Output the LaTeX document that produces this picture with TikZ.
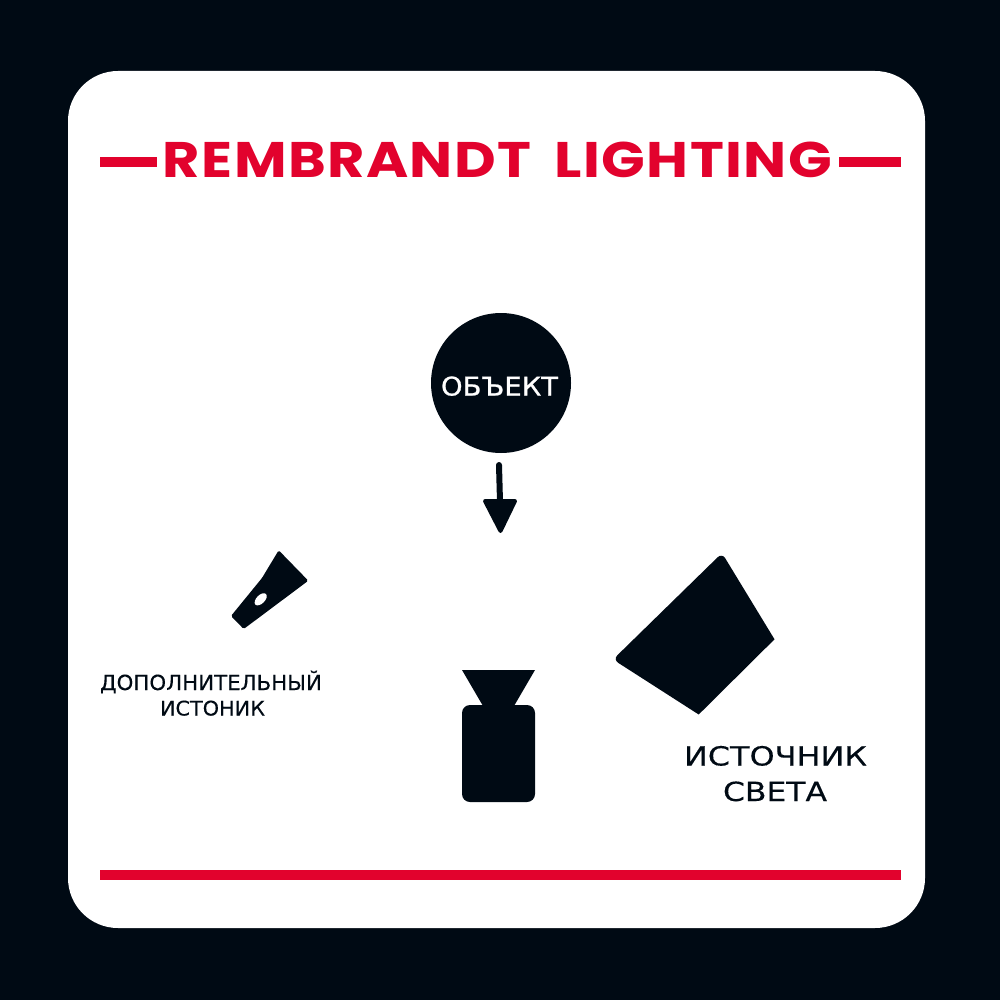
\documentclass[tikz,border=0pt]{standalone}
\usepackage{graphicx}
\usepackage{fontspec}
\setmainfont[FakeBold=0.25]{DejaVu Sans}
\newfontfamily\subjectfont[FakeBold=0.9]{DejaVu Sans}
\newfontfamily\titlefont[LetterSpace=2.5,WordSpace=1.7]{Poppins}
\definecolor{night}{HTML}{000A14}
\definecolor{signal}{HTML}{E2022D}
\tikzset{
  shapefill/.style={fill=night,draw=night,line join=round},
  redbar/.style={fill=signal,draw=none},
  label/.style={anchor=base,inner sep=0pt,outer sep=0pt,text=night},
}
% width, cap height, text
\newcommand{\fitwh}[3]{\resizebox{#1pt}{#2pt}{\rule{0pt}{0.72em}\smash{#3}}}
\begin{document}
\begin{tikzpicture}[x=1pt,y=-1pt]
\useasboundingbox (0,0) rectangle (1000,1000);
\fill[night] (0,0) rectangle (1000,1000);
\fill[white,rounded corners=50pt] (68,71) rectangle (925,928);
% title
\fill[redbar] (100,157) rectangle (157,167);
\fill[redbar] (839,157) rectangle (901,167);
\fill[redbar] (100,870) rectangle (901,880);
\node[label,text=signal] (title) at (497.5,178) {\fitwh{669}{36}{\titlefont\bfseries REMBRANDT LIGHTING}};
% subject
\node[circle,fill=night,minimum size=140pt,inner sep=0pt] (subject) at (501,383) {};
\node[label,text=white] (subjectlabel) at (499.5,395.5) {\fitwh{117}{18.5}{\subjectfont ОБЪЕКТ}};
% arrow
\coordinate (arrowstart) at (499,465);
\coordinate (arrowjoin) at (500,502);
\draw[night,line width=6pt,line cap=round] (arrowstart) -- (arrowjoin);
\filldraw[shapefill,line width=4pt] (485,501) -- (515,501) -- (500.5,531) -- cycle;
% camera
\fill[night] (462,670) -- (535,670) -- (514,706) -- (483,706) -- cycle;
\fill[night,rounded corners=8pt] (462,705) rectangle (535,802);
% fill light
\fill[night,rounded corners=1.5pt]
  (278.7,550.3) -- (308.3,580.7) -- (243.7,629) -- (231,616) -- (262,578) -- cycle;
\fill[white,rotate around={45:(260.7,599.3)}] (260.7,599.3) ellipse (7.5pt and 4.2pt);
% key light
\fill[night,rounded corners=6pt] (722,553) -- (748.25,596.15) [sharp corners] -- (774.5,639.3) -- (698.7,714.5) -- (655.85,687) [rounded corners=6pt] -- (613,659.5) -- (667.5,606.25) -- cycle;
% labels
\node[label] (filla) at (211,690) {\fitwh{222}{15}{ДОПОЛНИТЕЛЬНЫЙ}};
\node[label] (fillb) at (212.5,715.5) {\fitwh{105}{14.5}{ИСТОНИК}};
\node[label] (keya) at (775.5,765.5) {\fitwh{183}{19}{ИСТОЧНИК}};
\node[label] (keyb) at (775,801) {\fitwh{104}{19}{СВЕТА}};
\end{tikzpicture}
\end{document}
